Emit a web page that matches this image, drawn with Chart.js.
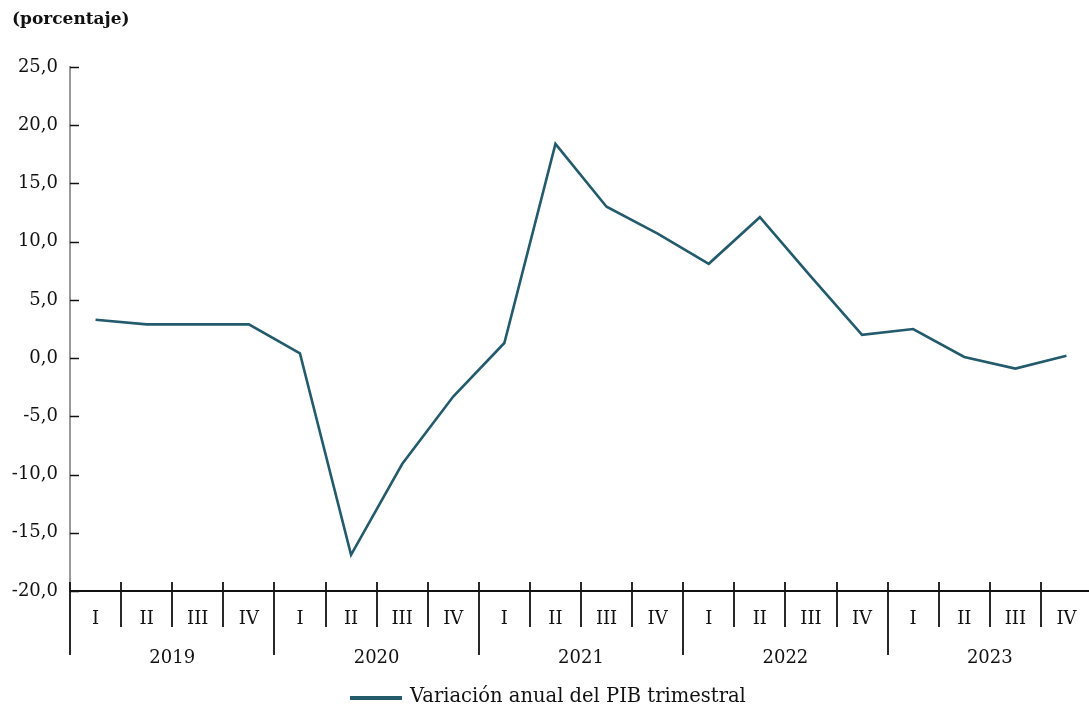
<!DOCTYPE html>
<html>
<head>
<meta charset="utf-8">
<script src="https://cdn.jsdelivr.net/npm/chart.js@4/dist/chart.umd.min.js"></script>
<style>
  html, body { margin: 0; padding: 0; background: #fff; overflow: hidden; }
  #wrap { position: absolute; left: 0; top: 0; width: 1095px; height: 710px; }
</style>
</head>
<body>
<div id="wrap"><canvas id="c" width="1095" height="710"></canvas></div>
<script>
const quarters = ['I','II','III','IV','I','II','III','IV','I','II','III','IV','I','II','III','IV','I','II','III','IV'];
const years = ['2019','2020','2021','2022','2023'];
const gdpGrowth = [3.3, 2.9, 2.9, 2.9, 0.4, -16.9, -9.1, -3.3, 1.3, 18.4, 13.0, 10.7, 8.1, 12.1, 7.0, 2.0, 2.5, 0.1, -0.9, 0.2];
const yMin = -20, yMax = 25, yStep = 5;
const unitLabel = '(porcentaje)';
const seriesLabel = 'Variación anual del PIB trimestral';

const FONT = '"DejaVu Serif", "Liberation Serif", serif';
const LINE_COLOR = '#235b6d';
const TEXT_COLOR = '#111111';

const fmt = v => v.toFixed(1).replace('.', ',');

const decor = {
  id: 'decor',
  afterDraw(chart) {
    const ctx = chart.ctx;
    const xs = chart.scales.x, ys = chart.scales.y;
    const a = chart.chartArea;
    const base = a.bottom;
    ctx.save();
    // inward y ticks
    ctx.strokeStyle = '#111';
    ctx.lineWidth = 1.5;
    ys.ticks.forEach(t => {
      const y = Math.round(ys.getPixelForValue(t.value)) + 0.5;
      ctx.beginPath(); ctx.moveTo(a.left, y); ctx.lineTo(a.left + 9, y); ctx.stroke();
    });
    // x axis line
    ctx.lineWidth = 2;
    ctx.beginPath(); ctx.moveTo(a.left, base); ctx.lineTo(chart.width, base); ctx.stroke();
    // dividers
    ctx.lineWidth = 1.8;
    for (let i = 0; i < quarters.length; i++) {
      const x = Math.round(xs.getPixelForValue(i - 0.5));
      const isYear = i % 4 === 0;
      ctx.beginPath();
      ctx.moveTo(x, base - 9);
      ctx.lineTo(x, base + (isYear ? 64 : 36));
      ctx.stroke();
    }
    // quarter labels
    ctx.fillStyle = TEXT_COLOR;
    ctx.font = '18px ' + FONT;
    ctx.textAlign = 'center';
    ctx.textBaseline = 'middle';
    quarters.forEach((q, i) => {
      ctx.fillText(q, xs.getPixelForValue(i), base + 28);
    });
    // year labels
    years.forEach((yr, k) => {
      const x0 = xs.getPixelForValue(k * 4 - 0.5);
      const x1 = xs.getPixelForValue(k * 4 + 3.5);
      ctx.fillText(yr, (x0 + x1) / 2, base + 67);
    });
    // unit label
    ctx.font = 'bold 17px ' + FONT;
    ctx.textAlign = 'left';
    ctx.fillText(unitLabel, 12, 20);
    // legend
    ctx.strokeStyle = LINE_COLOR;
    ctx.lineWidth = 4;
    ctx.beginPath(); ctx.moveTo(350, 698); ctx.lineTo(402, 698); ctx.stroke();
    ctx.font = '19.5px ' + FONT;
    ctx.fillStyle = TEXT_COLOR;
    ctx.fillText(seriesLabel, 410, 697);
    ctx.restore();
  }
};

new Chart(document.getElementById('c'), {
  type: 'line',
  data: {
    labels: quarters,
    datasets: [{
      label: seriesLabel,
      data: gdpGrowth,
      borderColor: LINE_COLOR,
      backgroundColor: LINE_COLOR,
      borderWidth: 2.6,
      pointRadius: 0,
      tension: 0,
      fill: false
    }]
  },
  options: {
    responsive: false,
    animation: false,
    devicePixelRatio: 1,
    layout: { padding: { left: 0, right: 3, top: 67, bottom: 119 } },
    plugins: { legend: { display: false }, tooltip: { enabled: false }, title: { display: false } },
    scales: {
      x: { type: 'category', offset: true, display: false },
      y: {
        min: yMin, max: yMax,
        afterFit(s) { s.width = 70; },
        border: { display: true, color: '#9a9a9a', width: 2 },
        grid: { drawOnChartArea: false, drawTicks: false },
        ticks: {
          stepSize: yStep,
          padding: 12,
          color: TEXT_COLOR,
          font: { family: FONT, size: 18 },
          callback: v => fmt(v)
        }
      }
    }
  },
  plugins: [decor]
});
</script>
</body>
</html>
